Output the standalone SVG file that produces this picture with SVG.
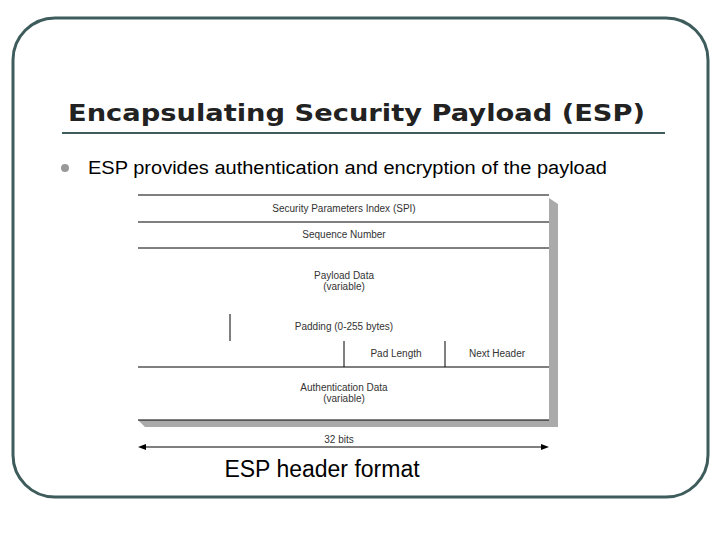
<svg xmlns="http://www.w3.org/2000/svg" width="720" height="540" viewBox="0 0 720 540">
<style>
.f{font-family:"Liberation Sans",Arial,sans-serif;fill:#000}
.s{font-size:10px;fill:#333;text-anchor:middle}
.l{stroke:#000;stroke-width:1}
</style>
<rect width="720" height="540" fill="#fff"/>
<rect x="13" y="18" width="695" height="479" rx="42" fill="none" stroke="#3f5c5c" stroke-width="3"/>
<text x="68" y="121" font-family="'DejaVu Sans',Verdana,sans-serif" font-size="23" font-weight="bold" fill="#222" textLength="577" lengthAdjust="spacingAndGlyphs">Encapsulating Security Payload (ESP)</text>
<line x1="62" y1="133" x2="665" y2="133" stroke="#3f5c5c" stroke-width="2"/>
<circle cx="65" cy="168" r="4" fill="#999"/>
<text class="f" x="88" y="174" font-size="18" textLength="519" lengthAdjust="spacingAndGlyphs">ESP provides authentication and encryption of the payload</text>
<g id="packet">
<polygon points="549,198 558,204 558,427 145,427 138,420 549,420" fill="#aaa"/>
<rect x="138" y="195" width="411" height="225" fill="#fff"/>
<line class="l" x1="138" y1="195" x2="549" y2="195"/>
<line class="l" x1="138" y1="222" x2="549" y2="222"/>
<line class="l" x1="138" y1="248" x2="549" y2="248"/>
<line class="l" x1="138" y1="367" x2="549" y2="367"/>
<line class="l" x1="138" y1="420" x2="549" y2="420"/>
<line class="l" x1="230" y1="314" x2="230" y2="341"/>
<line class="l" x1="344" y1="341" x2="344" y2="367"/>
<line class="l" x1="445" y1="341" x2="445" y2="367"/>
<text class="f s" x="344" y="212">Security Parameters Index (SPI)</text>
<text class="f s" x="344" y="238">Sequence Number</text>
<text class="f s" x="344" y="279">Payload Data</text>
<text class="f s" x="344" y="290">(variable)</text>
<text class="f s" x="344" y="330">Padding (0-255 bytes)</text>
<text class="f s" x="396" y="357">Pad Length</text>
<text class="f s" x="497" y="357">Next Header</text>
<text class="f s" x="344" y="391">Authentication Data</text>
<text class="f s" x="344" y="402">(variable)</text>
</g>
<g id="connectors">
<line class="l" x1="142" y1="447" x2="545" y2="447"/>
<polygon points="138,447 146,444 146,450" fill="#000"/>
<polygon points="549,447 541,444 541,450" fill="#000"/>
</g>
<text class="f s" x="339" y="443" font-size="12">32 bits</text>
<text class="f" x="322" y="477" font-size="23" text-anchor="middle">ESP header format</text>
</svg>
